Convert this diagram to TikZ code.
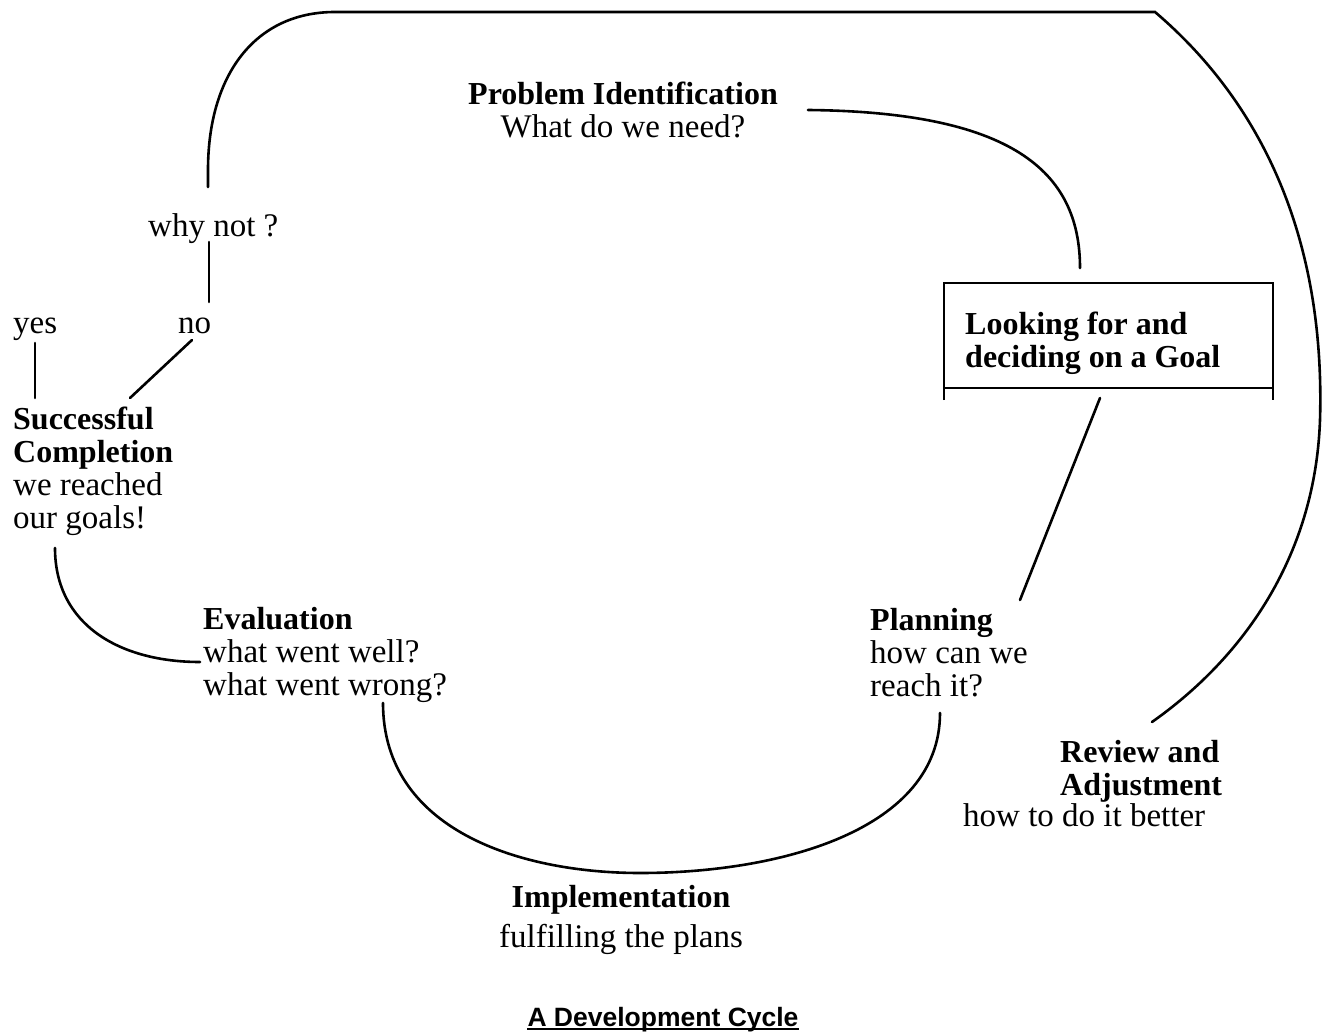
\documentclass[tikz,border=0pt]{standalone}
\usepackage{fontspec}
\setmainfont{Liberation Serif}
\setsansfont{Liberation Sans}
\usetikzlibrary{positioning}

% multi-line nodes sit on the baseline of their last line
\newcommand{\hd}[1]{{\fontsize{32}{33}\selectfont\bfseries #1}}

\tikzset{
  txt/.style={inner sep=0pt, font=\fontsize{33}{33}\selectfont, align=left, anchor=base west},
  head/.style={txt, font=\fontsize{32}{33}\selectfont\bfseries},
  link/.style={line width=2.6pt, line cap=round},
}

\begin{document}
\begin{tikzpicture}[x=1pt, y=-1pt]
  %%%%% START %%%%%
  \useasboundingbox (0,0) rectangle (1328,1032);

  % texts
  \node[txt, anchor=base, align=center] (prob) at (623,138) {\hd{Problem Identification}\\What do we need?};
  \node[head] (goal) at (965,367) {Looking for and\\deciding on a Goal};
  \node[txt] (plan) at (870,696) {\hd{Planning}\\how can we\\reach it?};
  \node[txt, anchor=base, align=center] (impl) at (621,947) {\hd{Implementation}\\[7pt]fulfilling the plans};
  \node[txt] (eval) at (203,695) {\hd{Evaluation}\\what went well?\\what went wrong?};
  \node[txt] (succ) at (13,528) {\hd{Successful}\\\hd{Completion}\\we reached\\our goals!};
  \node[txt] (yes) at (13,334) {yes};
  \node[txt] (no) at (178,334) {no};
  \node[txt] (why) at (148,237) {why not ?};
  \node[head] (rev) at (1060,795) {Review and\\Adjustment};
  \node[txt] (revtxt) at (963,826) {how to do it better};
  \node[inner sep=0pt, anchor=base, font=\sffamily\bfseries\fontsize{26.5}{30}\selectfont] (title) at (663,1026) {A Development Cycle};

  % free ends
  \coordinate (loopstart) at (208,187);
  \coordinate (loopend) at (1152,722);
  \coordinate (whytop) at (209,242);
  \coordinate (whybot) at (209,302);
  \coordinate (yestop) at (35,343);
  \coordinate (yesbot) at (35,398);
  \coordinate (notop) at (192,340);
  \coordinate (nobot) at (130,398);
  \coordinate (probend) at (808,110);
  \coordinate (goaltop) at (1080,268);
  \coordinate (goalout) at (1100,398);
  \coordinate (planin) at (1020,600);
  \coordinate (evalout) at (383,703);
  \coordinate (planout) at (940,713);
  \coordinate (succout) at (55,548);
  \coordinate (evalin) at (200,662);

  % goal frame
  \draw[link, line cap=butt] ([shift={(-21,33)}]goal.base west) -- ++(0,-117) -- ++(329,0) -- ++(0,117);
  \draw[link, line cap=butt] ([shift={(-21,21)}]goal.base west) -- ++(329,0);

  % cycle
  \draw[link] (loopstart) -- (208,170) .. controls (208,75) and (255,12) .. (335,12) -- (1155,12)
    .. controls (1270,110) and (1325,250) .. (1320,420) .. controls (1315,560) and (1240,660) .. (loopend);
  \draw[link] (whytop) -- (whybot);
  \draw[link] (yestop) -- (yesbot);
  \draw[link] (notop) -- (nobot);
  \draw[link] (probend) .. controls (1010,112) and (1080,170) .. (goaltop);
  \draw[link] (goalout) -- (planin);
  \draw[link] (evalout) .. controls (383,830) and (520,873) .. (640,873) .. controls (780,873) and (940,830) .. (planout);
  \draw[link] (succout) .. controls (55,625) and (120,662) .. (evalin);

  \draw[line width=1.6pt] ([yshift=-3pt]title.base west) -- ([yshift=-3pt]title.base east);
  %%%%% END %%%%%
\end{tikzpicture}
\end{document}
